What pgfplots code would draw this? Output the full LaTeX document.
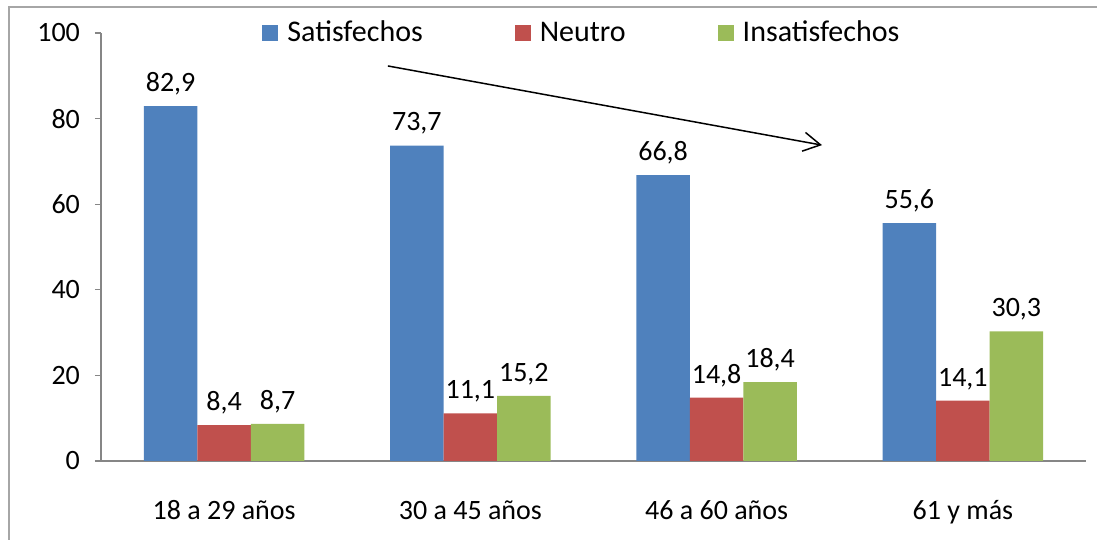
\documentclass[border=0pt]{standalone}
\usepackage{fontspec}
\setmainfont{Carlito}
\usepackage{pgfplots}
\pgfplotsset{compat=1.18}
\usetikzlibrary{arrows.meta}

\definecolor{cBlue}{HTML}{4F81BD}
\definecolor{cRed}{HTML}{C0504D}
\definecolor{cGreen}{HTML}{9BBB59}
\definecolor{cAxis}{HTML}{868686}

\begin{document}
\begin{tikzpicture}

  %% one pixel of the reference = 0.5pt
  \begin{axis}[
    scale only axis,
    width = 492.5pt,
    height = 214pt,
    xmin = -0.5, xmax = 3.5,
    ymin = 0, ymax = 100,
    axis lines* = left,
    axis line style = {cAxis, line width=0.6pt},
    clip = false,
    ybar = 0pt,
    bar width = 26.75pt,
    xtick = {0,1,2,3},
    xticklabels = {18 a 29 años, 30 a 45 años, 46 a 60 años, 61 y más},
    x tick style = {draw=none},
    xticklabel style = {font=\fontsize{14}{16}\selectfont, anchor=base, yshift=-26.5pt},
    extra x ticks = {-0.5,0.5,1.5,2.5,3.5},
    extra x tick labels = {},
    extra x tick style = {
      tick align = outside,
      major tick length = 4.5pt,
      tick style = {draw=cAxis, line width=0.6pt}},
    ytick = {0,20,40,60,80,100},
    y tick style = {draw=cAxis, line width=0.6pt},
    tick align = outside,
    major tick length = 3pt,
    yticklabel style = {font=\fontsize{14}{16}\selectfont, xshift=-4pt},
    /pgf/number format/assume math mode = true,
    nodes near coords,
    nodes near coords style = {
      font = \fontsize{14}{16}\selectfont,
      /pgf/number format/.cd, fixed, fixed zerofill, precision=1, use comma,
      /tikz/.cd, anchor=south, yshift=2pt},
    legend columns = 3,
    legend style = {
      draw = none, fill = none,
      at = {(0.1635,1.0)}, anchor = west,
      inner sep = 0pt,
      font = \fontsize{15}{18}\selectfont,
      cells = {anchor=west, inner sep=0pt},
      /tikz/every odd column/.append style = {column sep=2.5pt},
      /tikz/every even column/.append style = {column sep=44pt}},
    legend image code/.code = {\fill[#1] (0pt,-4pt) rectangle (8pt,4pt);},
    ]

    \addplot [fill=cBlue, draw=none] coordinates {
      (0,82.9) (1,73.7) (2,66.8) (3,55.6)};
    \addplot [fill=cRed, draw=none] coordinates {
      (0,8.4) (1,11.1) (2,14.8) (3,14.1)};
    \addplot [fill=cGreen, draw=none] coordinates {
      (0,8.7) (1,15.2) (2,18.4) (3,30.3)};
    \legend{Satisfechos, Neutro, Insatisfechos}

    %% trend arrow
    \draw [black, line width=0.75pt, -{Straight Barb[length=8.5pt, width=9.5pt]}]
      (axis cs:0.665,92.3) -- (axis cs:2.428,73.8);

  \end{axis}

  %% outer frame (right and bottom edges fall outside the picture)
  \draw [gray!70, line width=0.8pt] (-46pt,-60pt) |- (520pt,227pt);

  \pgfresetboundingbox
  \path [use as bounding box] (-50.5pt,-39.5pt) rectangle (498pt,230.5pt);

\end{tikzpicture}
\end{document}
